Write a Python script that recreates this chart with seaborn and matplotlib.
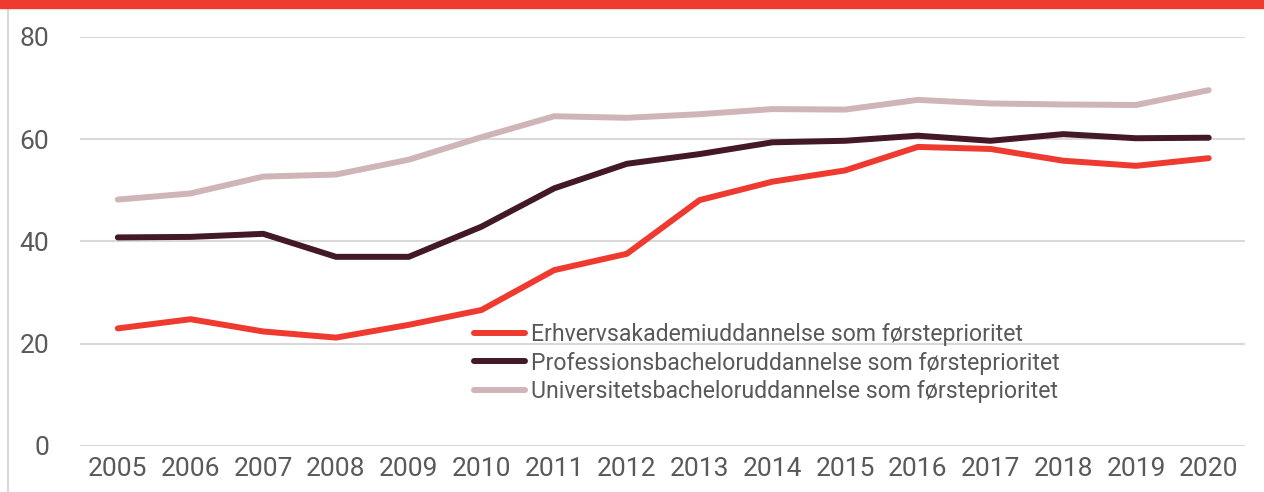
import matplotlib
matplotlib.use('Agg')
import matplotlib.pyplot as plt
import pandas as pd
import seaborn as sns
from matplotlib.patches import Rectangle
from matplotlib.lines import Line2D

years = list(range(2005, 2021))
erhverv = [23.0, 24.8, 22.4, 21.2, 23.7, 26.6, 34.4, 37.6, 48.1, 51.7, 53.9, 58.5, 58.1, 55.8, 54.8, 56.3]
profession = [40.8, 40.9, 41.5, 37.0, 37.0, 42.9, 50.4, 55.2, 57.1, 59.4, 59.7, 60.7, 59.7, 61.0, 60.2, 60.3]
univ = [48.2, 49.4, 52.7, 53.1, 56.0, 60.4, 64.5, 64.2, 64.9, 65.9, 65.8, 67.7, 67.0, 66.8, 66.7, 69.6]
labels = ['Erhvervsakademiuddannelse som førsteprioritet',
          'Professionsbacheloruddannelse som førsteprioritet',
          'Universitetsbacheloruddannelse som førsteprioritet']
colors = ['#EE3A2F', '#431926', '#CFB5B7']
yticks = [0, 20, 40, 60, 80]

df = pd.concat([
    pd.DataFrame({'year': years, 'value': vals, 'serie': lab})
    for vals, lab in zip([erhverv, profession, univ], labels)
])

sns.set_style('white')
plt.rcParams['font.family'] = ['Roboto', 'DejaVu Sans']
GRAY = '#595959'

fig = plt.figure(figsize=(12.64, 4.92), dpi=100)
ax = fig.add_axes([0.0633, 0.0935, 0.9217, 0.8313])

sns.lineplot(data=df, x='year', y='value', hue='serie', hue_order=labels,
             palette=colors, linewidth=4.3, ax=ax, legend=False,
             solid_capstyle='round')

ax.set_xlim(2004.48, 2020.5)
ax.set_ylim(0, 80)
ax.set_yticks(yticks)
ax.set_xticks(years)
ax.set_xlabel('')
ax.set_ylabel('')
ax.grid(axis='y', color='#d9d9d9', linewidth=1.5)
ax.set_axisbelow(True)
for s in ax.spines.values():
    s.set_visible(False)
ax.tick_params(axis='both', length=0, labelsize=19, colors=GRAY)
ax.tick_params(axis='y', pad=22)
ax.tick_params(axis='x', pad=8)

handles = [Line2D([0], [0], color=c, linewidth=4.3, solid_capstyle='round') for c in colors]
leg = fig.legend(handles, labels, loc='upper left', bbox_to_anchor=(0.3655, 0.366),
                 frameon=False, fontsize=16.6, handlelength=2.25, handletextpad=0.25,
                 labelspacing=0.22, labelcolor=GRAY, borderpad=0)

# top red band and left border
fig.patches.append(Rectangle((0, 0.984), 1, 0.016, transform=fig.transFigure,
                             color='#EE3A2F', zorder=5))
fig.add_artist(Line2D([0.0065, 0.0065], [0, 0.984], transform=fig.transFigure,
                      color='#d9d9d9', linewidth=1.5))

fig.savefig('out.png', dpi=100)
